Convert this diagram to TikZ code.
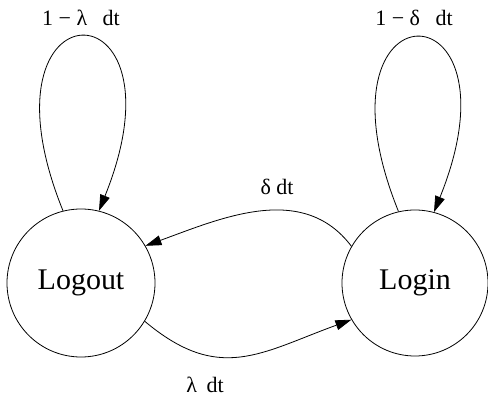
\documentclass[tikz,border=0pt]{standalone}
\usepackage{fontspec}
\setmainfont{Liberation Serif}
\usetikzlibrary{arrows.meta}
\begin{document}
\begin{tikzpicture}[x=1pt,y=1pt,
  state/.style={draw, circle, inner sep=0pt, line width=0.8pt, font=\fontsize{30}{36}\selectfont},
  edge/.style={draw, line width=0.8pt, -{Triangle[length=16pt,width=10pt]}},
  lbl/.style={font=\fontsize{22}{26}\selectfont, inner sep=0pt}]
\useasboundingbox (0,0) rectangle (488,402);
\node[state, minimum size=148pt] (out) at (81,119) {Logout};
\node[state, minimum size=146pt] (in) at (415,119) {Login};
\draw[edge] (out.104) .. controls +(112:250pt) and +(68:250pt) .. (out.76);
\draw[edge] (in.103) .. controls +(112:250pt) and +(68:250pt) .. (in.75);
\draw[edge] (in.150) to[out=127,in=20] (out.30);
\draw[edge] (out.-31) to[out=-40,in=200,looseness=1.2] (in.210);
\node[lbl] (l1) at (81,384) {1 − λ\hspace{10pt} dt};
\node[lbl] (l2) at (414,384) {1 − δ\hspace{10pt} dt};
\node[lbl] (l3) at (277,215) {δ dt};
\node[lbl] (l4) at (205,17) {λ\hspace{4pt} dt};
\end{tikzpicture}
\end{document}
